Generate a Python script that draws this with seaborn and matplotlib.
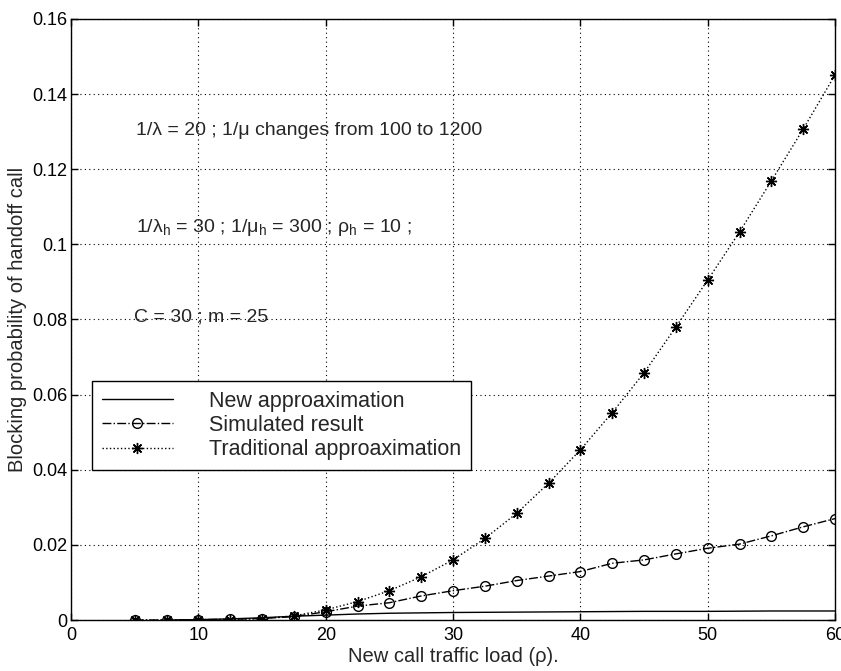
import matplotlib
matplotlib.use("Agg")
import matplotlib.pyplot as plt
import seaborn as sns
import pandas as pd

# ---- data ----
load_pts = [5, 7.5, 10, 12.5, 15, 17.5, 20, 22.5, 25, 27.5, 30, 32.5, 35, 37.5, 40,
            42.5, 45, 47.5, 50, 52.5, 55, 57.5, 60]
simulated = [0.0, 0.0, 0.0001, 0.0002, 0.0004, 0.0009, 0.0022, 0.0037, 0.0046, 0.0064,
             0.0078, 0.0090, 0.0105, 0.0117, 0.0129, 0.0151, 0.0160, 0.0176, 0.0191,
             0.0202, 0.0224, 0.0248, 0.0270]
traditional = [0.0, 0.0, 0.0, 0.0001, 0.0004, 0.0011, 0.0027, 0.0049, 0.0078, 0.0115,
               0.0160, 0.0217, 0.0284, 0.0364, 0.0453, 0.0552, 0.0658, 0.0780, 0.0905,
               0.1033, 0.1169, 0.1307, 0.1451]
new_x = [7.5, 10, 12.5, 15, 17.5, 20, 22.5, 25, 27.5, 30, 35, 40, 45, 50, 55, 60]
new_approx = [0.0, 0.0001, 0.0003, 0.0006, 0.0010, 0.0013, 0.0016, 0.0018, 0.0019,
              0.0020, 0.0021, 0.0022, 0.0023, 0.0023, 0.0024, 0.0024]

x_ticks = [0, 10, 20, 30, 40, 50, 60]
y_ticks = [0, 0.02, 0.04, 0.06, 0.08, 0.1, 0.12, 0.14, 0.16]
y_tick_labels = ["0", "0.02", "0.04", "0.06", "0.08", "0.1", "0.12", "0.14", "0.16"]

labels = ["New approaximation", "Simulated result", "Traditional approaximation"]
notes = [
    "1/λ = 20 ; 1/μ changes from 100 to 1200",
    "1/λ$_\\mathrm{h}$ = 30 ; 1/μ$_\\mathrm{h}$ = 300 ; ρ$_\\mathrm{h}$ = 10 ;",
    "C = 30 ; m = 25",
]
note_pos = [(5.1, 0.1291), (5.1, 0.1034), (4.95, 0.0794)]

# ---- style ----
sns.set_style("ticks")
plt.rcParams["font.family"] = ["Liberation Sans", "DejaVu Sans"]
plt.rcParams["mathtext.fontset"] = "custom"
plt.rcParams["mathtext.rm"] = "Liberation Sans"
plt.rcParams["xtick.direction"] = "in"
plt.rcParams["ytick.direction"] = "in"

fig = plt.figure(figsize=(8.41, 6.71), dpi=100)
ax = fig.add_axes([0.0845, 0.076, 0.9084, 0.8957])

df_new = pd.DataFrame({"x": new_x, "y": new_approx})
df_sim = pd.DataFrame({"x": load_pts, "y": simulated})
df_tra = pd.DataFrame({"x": load_pts, "y": traditional})

sns.lineplot(data=df_new, x="x", y="y", ax=ax, color="black", linewidth=1.0,
             linestyle="-", label=labels[0])
sns.lineplot(data=df_sim, x="x", y="y", ax=ax, color="black", linewidth=1.0,
             linestyle="-.", marker="o", markersize=7, markerfacecolor="none",
             markeredgecolor="black", markeredgewidth=1.0, label=labels[1])
sns.lineplot(data=df_tra, x="x", y="y", ax=ax, color="black", linewidth=1.0,
             linestyle=":", marker=(8, 2, 0), markersize=8, markeredgecolor="black",
             markeredgewidth=1.0, label=labels[2])

ax.set_xlim(0, 60)
ax.set_ylim(0, 0.16)
ax.set_xticks(x_ticks)
ax.set_yticks(y_ticks)
ax.set_yticklabels(y_tick_labels)
ax.tick_params(axis="both", labelsize=13, length=5, width=1, colors="black",
               top=True, right=True)
ax.tick_params(axis="x", pad=5)
ax.tick_params(axis="y", pad=2.5)
for s in ax.spines.values():
    s.set_visible(True)
    s.set_color("black")
    s.set_linewidth(1.0)
ax.grid(True, linestyle=(0, (1, 3)), color="black", linewidth=0.8)

ax.set_xlabel("New call traffic load (ρ).", fontsize=14.5, labelpad=2)
ax.set_ylabel("Blocking probability of handoff call", fontsize=14.5, labelpad=4)

for t, (px, py) in zip(notes, note_pos):
    ax.text(px, py, t, fontsize=14, ha="left", va="baseline")

leg = ax.legend(loc="lower left", bbox_to_anchor=(0.0275, 0.25), fontsize=15.5,
                frameon=True, fancybox=False, framealpha=1, edgecolor="black",
                handlelength=3.3, handletextpad=1.7, labelspacing=0.15,
                borderpad=0.45, borderaxespad=0)
leg.get_frame().set_linewidth(1.0)

fig.savefig("out.png", dpi=100)
